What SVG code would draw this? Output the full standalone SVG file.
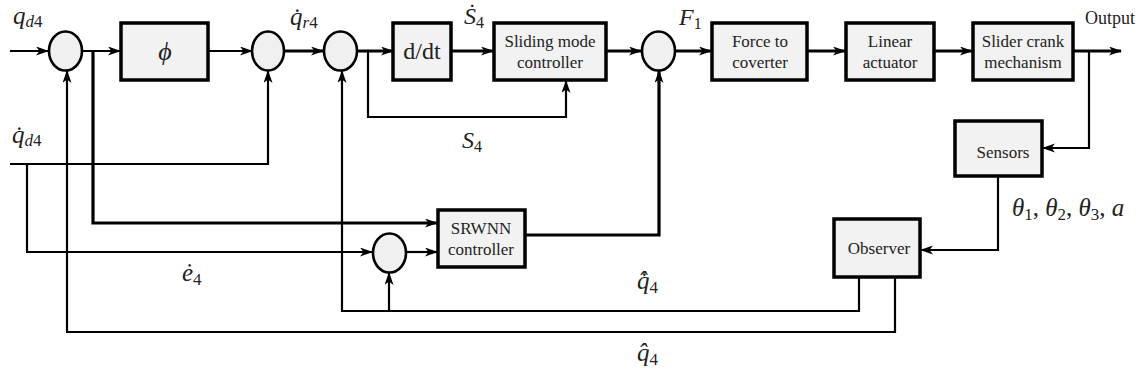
<svg xmlns="http://www.w3.org/2000/svg" width="1142" height="381" viewBox="0 0 1142 381">
<defs>
<marker id="ah" markerWidth="14" markerHeight="10" refX="12" refY="4.5" orient="auto" markerUnits="userSpaceOnUse">
<path d="M0,0 L13,4.5 L0,9 L3.5,4.5 z" fill="#000"/>
</marker>
<style>
.box{fill:#f2f2f2;stroke:#000;stroke-width:3.5}
.sum{fill:#f0f0f0;stroke:#000;stroke-width:2.6}
.ln{fill:none;stroke:#000;stroke-width:2.2}
.tk{fill:none;stroke:#000;stroke-width:3.2}
.arr{marker-end:url(#ah)}
text{font-family:'Liberation Serif','Times New Roman',serif}
.bt{fill:#222;text-anchor:middle;font-size:17px}
.m{fill:#222}
.i{font-style:italic}
</style>
</defs>
<rect width="1142" height="381" fill="#fff"/>
<g id="connectors">
<path class="ln arr" d="M10,51 H48"/>
<path class="ln arr" d="M82,51 H120"/>
<path class="tk arr" d="M93,51 V223 H437"/>
<path class="ln arr" d="M208,51 H252"/>
<path class="tk arr" d="M284,51 H323"/>
<path class="tk arr" d="M357,51 H393"/>
<path class="ln arr" d="M368,51 V117 H566 V81"/>
<path class="tk arr" d="M451,51 H493"/>
<path class="tk arr" d="M606,51 H641"/>
<path class="tk arr" d="M675,51 H711"/>
<path class="tk arr" d="M807,51 H845"/>
<path class="tk arr" d="M934,51 H972"/>
<path class="tk arr" d="M1073,51 H1121"/>
<path class="ln arr" d="M1089,51 V148 H1043"/>
<path class="ln arr" d="M998,176 V250 H921"/>
<path class="ln arr" d="M859,277 V311 H342 V71"/>
<path class="ln arr" d="M389,311 V273"/>
<path class="ln arr" d="M895,277 V332 H67 V71"/>
<path class="ln arr" d="M10,164 H268 V71"/>
<path class="ln arr" d="M27,164 V252 H372"/>
<path class="ln arr" d="M406,252 H437"/>
<path class="tk arr" d="M525,235 H659 V71"/>
</g>
<g id="sum1"><ellipse class="sum" cx="65.5" cy="51" rx="16.5" ry="19.5"/></g>
<g id="phi"><rect class="box" x="121" y="23" width="87" height="57"/><text class="m i" x="165" y="60" font-size="26" text-anchor="middle">ϕ</text></g>
<g id="sum2"><ellipse class="sum" cx="268" cy="51" rx="16" ry="19.5"/></g>
<g id="sum3"><ellipse class="sum" cx="340.5" cy="51" rx="16.5" ry="19.5"/></g>
<g id="ddt"><rect class="box" x="393" y="23" width="58" height="57"/><text class="m" x="422" y="59" font-size="24" text-anchor="middle">d/dt</text></g>
<g id="smc"><rect class="box" x="494" y="23" width="112" height="57"/><text class="bt" x="550" y="47">Sliding mode</text><text class="bt" x="550" y="68">controller</text></g>
<g id="sum4"><ellipse class="sum" cx="658.5" cy="51" rx="16.5" ry="19.5"/></g>
<g id="force"><rect class="box" x="712" y="23" width="95" height="57"/><text class="bt" x="760" y="47">Force to</text><text class="bt" x="760" y="68">coverter</text></g>
<g id="linear"><rect class="box" x="846" y="23" width="88" height="57"/><text class="bt" x="890" y="47">Linear</text><text class="bt" x="890" y="68">actuator</text></g>
<g id="slider"><rect class="box" x="973" y="23" width="100" height="57"/><text class="bt" x="1023" y="47">Slider crank</text><text class="bt" x="1023" y="68">mechanism</text></g>
<g id="sensors"><rect class="box" x="955" y="121" width="87" height="55"/><text class="bt" x="1003" y="158" font-size="15">Sensors</text></g>
<g id="observer"><rect class="box" x="834" y="219" width="86" height="58"/><text class="bt" x="879" y="254" font-size="16">Observer</text></g>
<g id="srwnn"><rect class="box" x="438" y="210" width="87" height="57"/><text class="bt" x="481" y="234" font-size="16">SRWNN</text><text class="bt" x="481" y="255" font-size="16">controller</text></g>
<g id="sum5"><ellipse class="sum" cx="389.5" cy="253" rx="16.5" ry="19.5"/></g>
<g id="labels">
<text class="m" x="13" y="24" font-size="25"><tspan class="i">q</tspan><tspan font-size="17" dy="3"><tspan class="i">d</tspan>4</tspan></text>
<text class="m" x="12" y="143" font-size="25"><tspan class="i">q̇</tspan><tspan font-size="17" dy="3"><tspan class="i">d</tspan>4</tspan></text>
<text class="m" x="290" y="25" font-size="25"><tspan class="i">q̇</tspan><tspan font-size="17" dy="3"><tspan class="i">r</tspan>4</tspan></text>
<text class="m" x="464" y="24" font-size="24"><tspan class="i">Ṡ</tspan><tspan font-size="16" dy="4">4</tspan></text>
<text class="m" x="462" y="148" font-size="24"><tspan class="i">S</tspan><tspan font-size="16" dy="4">4</tspan></text>
<text class="m" x="679" y="25" font-size="24"><tspan class="i">F</tspan><tspan font-size="16" dy="4">1</tspan></text>
<text class="m" x="1085" y="24" font-size="18">Output</text>
<text class="m" x="182" y="281" font-size="25"><tspan class="i">ė</tspan><tspan font-size="17" dy="4">4</tspan></text>
<text class="m" x="1012" y="216" font-size="25"><tspan class="i">θ</tspan><tspan font-size="17" dy="4">1</tspan><tspan dy="-4">, </tspan><tspan class="i">θ</tspan><tspan font-size="17" dy="4">2</tspan><tspan dy="-4">, </tspan><tspan class="i">θ</tspan><tspan font-size="17" dy="4">3</tspan><tspan dy="-4">, </tspan><tspan class="i">a</tspan></text>
<text class="m" x="637" y="289" font-size="25"><tspan class="i">q̂̇</tspan><tspan font-size="17" dy="4">4</tspan></text>
<text class="m" x="637" y="361" font-size="25"><tspan class="i">q̂</tspan><tspan font-size="17" dy="4">4</tspan></text>
</g>
</svg>
